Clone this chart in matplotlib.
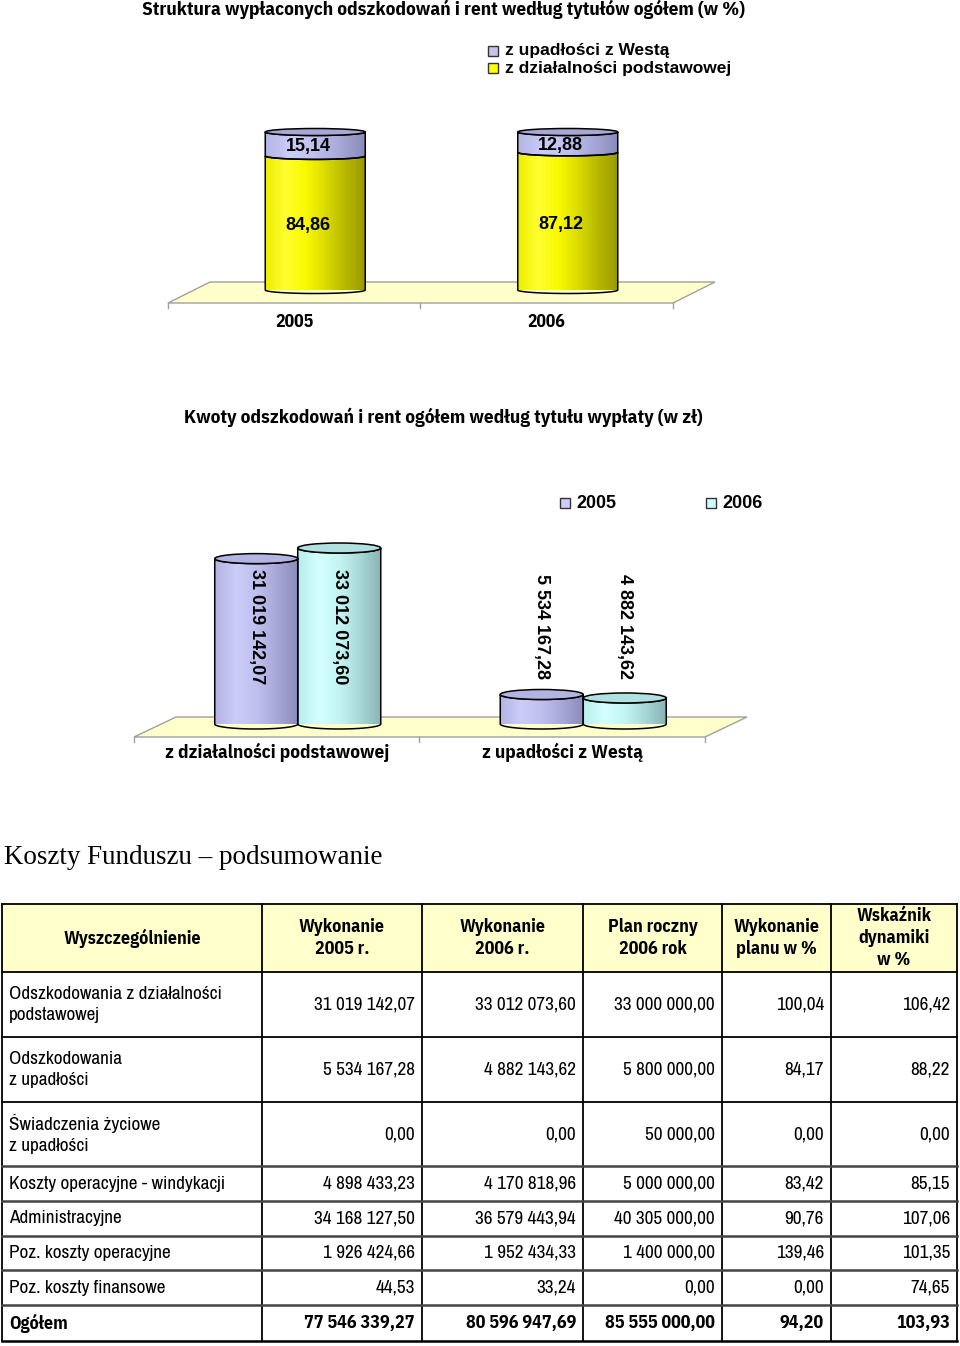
import numpy as np
import matplotlib
matplotlib.use('Agg')
import matplotlib.pyplot as plt
from matplotlib.patches import Polygon, Ellipse, Rectangle
from matplotlib.lines import Line2D
from matplotlib.colors import LinearSegmentedColormap
import matplotlib.transforms as mtransforms

# ---------------- data ----------------
years = ['2005', '2006']
share_series = ['z upadłości z Westą', 'z działalności podstawowej']
share_upadlosc = [15.14, 12.88]
share_dzialalnosc = [84.86, 87.12]

amount_categories = ['z działalności podstawowej', 'z upadłości z Westą']
amount_2005 = [31019142.07, 5534167.28]
amount_2006 = [33012073.60, 4882143.62]

title1 = 'Struktura wypłaconych odszkodowań i rent według tytułów ogółem (w %)'
title2 = 'Kwoty odszkodowań i rent ogółem według tytułu wypłaty (w zł)'
heading = 'Koszty Funduszu – podsumowanie'

table_headers = ['Wyszczególnienie', 'Wykonanie\n2005 r.', 'Wykonanie\n2006 r.',
                 'Plan roczny\n2006 rok', 'Wykonanie\nplanu w %', 'Wskaźnik\ndynamiki\nw %']
row_labels = ['Odszkodowania z działalności\npodstawowej', 'Odszkodowania\nz upadłości',
              'Świadczenia życiowe\nz upadłości', 'Koszty operacyjne - windykacji',
              'Administracyjne', 'Poz. koszty operacyjne', 'Poz. koszty finansowe', 'Ogółem']
wyk_2005 = [31019142.07, 5534167.28, 0.00, 4898433.23, 34168127.50, 1926424.66, 44.53, 77546339.27]
wyk_2006 = [33012073.60, 4882143.62, 0.00, 4170818.96, 36579443.94, 1952434.33, 33.24, 80596947.69]
plan_2006 = [33000000.00, 5800000.00, 50000.00, 5000000.00, 40305000.00, 1400000.00, 0.00, 85555000.00]
wyk_planu = [100.04, 84.17, 0.00, 83.42, 90.76, 139.46, 0.00, 94.20]
dynamika = [106.42, 88.22, 0.00, 85.15, 107.06, 101.35, 74.65, 103.93]

# ---------------- setup ----------------
W, H = 960, 1346
fig = plt.figure(figsize=(W / 100, H / 100), dpi=100)
NARROW_B = ['IBM Plex Sans Condensed', 'DejaVu Sans']
NARROW_R = ['Archivo Narrow', 'DejaVu Sans']
SANS = ['Liberation Sans', 'DejaVu Sans']
SERIF = ['Liberation Serif', 'DejaVu Serif']
renderer = fig.canvas.get_renderer()


def fx(x):
    return x / W


def fy(y):
    return 1 - y / H


def fit(t, target, vertical=False):
    bb = t.get_window_extent(renderer)
    cur = bb.height if vertical else bb.width
    t.set_fontsize(t.get_fontsize() * target / cur)
    return t.get_fontsize()


def px_axes(x0, x1, ytop, ybot):
    ax = fig.add_axes([x0 / W, 1 - ybot / H, (x1 - x0) / W, (ybot - ytop) / H])
    ax.axis('off')
    return ax


def fmt(v):
    return f'{v:,.2f}'.replace(',', ' ').replace('.', ',')


def cylinder(ax, rect, colors, capcolor, ell_px=10, cap=True):
    x0, w, y0, h = rect.get_x(), rect.get_width(), rect.get_y(), rect.get_height()
    ylo, yhi = ax.get_ylim()
    xl = ax.get_xlim()
    eh = ell_px * (yhi - ylo) / (ax.get_position().height * H)
    t = np.linspace(0, np.pi, 80)
    xs = x0 + w / 2 - w / 2 * np.cos(t)
    bottom = y0 - eh / 2 * np.sin(t)
    top = y0 + h - eh / 2 * np.sin(t)
    verts = np.r_[np.c_[xs, bottom], np.c_[xs[::-1], top[::-1]]]
    poly = Polygon(verts, closed=True, fc='none', ec='black', lw=1.1, zorder=3, clip_on=False)
    ax.add_patch(poly)
    cmap = LinearSegmentedColormap.from_list('c', colors)
    im = ax.imshow(np.linspace(0, 1, 256).reshape(1, -1), extent=(x0, x0 + w, y0 - eh, y0 + h),
                   aspect='auto', cmap=cmap, zorder=2, interpolation='bilinear')
    im.set_clip_box(None)
    im.set_clip_path(poly)
    if cap:
        ax.add_patch(Ellipse((x0 + w / 2, y0 + h), w, eh, fc=capcolor, ec='black', lw=1.1,
                             zorder=4, clip_on=False))
    ax.set_xlim(xl)
    ax.set_ylim(ylo, yhi)


def floor(xfl, xfr, yf, dx, yb, ticks):
    pts = [(xfl, yf), (xfl + dx, yb), (xfr + dx, yb), (xfr, yf)]
    fig.add_artist(Polygon([(fx(a), fy(b)) for a, b in pts], closed=True, fc='#FFFFCC',
                           ec='#A0A0A0', lw=1.0, transform=fig.transFigure, zorder=-1))
    for tx in ticks:
        fig.add_artist(Line2D([fx(tx), fx(tx)], [fy(yf), fy(yf + 5)], color='#A0A0A0', lw=1.0,
                              transform=fig.transFigure, zorder=-1))


YELLOW = ['#EDED00', '#FFFF30', '#FAFA00', '#DCDC00', '#B8B800', '#9A9A00']
LAV = ['#B4B4E4', '#CCCCF8', '#C0C0F0', '#A8A8D8', '#8C8CBC']
CYAN = ['#B8ECEC', '#D4FFFF', '#C4F4F4', '#A8D8D8', '#88B4B4']

# ---------------- chart 1 ----------------
t = fig.text(fx(443), fy(9), title1, ha='center', va='center', fontsize=14, fontweight='bold',
             family=NARROW_B)
fit(t, 608)
leg1 = [(share_series[0], '#C4C4EE'), (share_series[1], '#FFFF00')]
for i, (lab, col) in enumerate(leg1):
    yy = 51 + 17 * i
    fig.add_artist(Rectangle((fx(488), fy(yy + 5)), 10 / W, 10 / H, fc=col, ec='#333333', lw=1.0,
                             transform=fig.transFigure))
    t = fig.text(fx(505), fy(yy), lab, ha='left', va='center', fontsize=12, fontweight='bold',
                 family=SANS)
    if i == 1:
        lsize = fit(t, 225)
        fig.texts[-2].set_fontsize(lsize)

floor(168, 673, 303, 42, 282, [168, 420, 673])
ax1 = px_axes(189, 694, 132, 290)
ax1.set_xlim(-0.5, 1.5)
ax1.set_ylim(0, 100)
x = np.arange(len(years))
bw1 = 100 / 252.5
bars_d = ax1.bar(x, share_dzialalnosc, bw1, visible=False)
bars_u = ax1.bar(x, share_upadlosc, bw1, bottom=share_dzialalnosc, visible=False)
lab_tr = mtransforms.offset_copy(ax1.transData, fig=fig, x=-7, y=-3, units='dots')
for rd, ru, vd, vu in zip(bars_d, bars_u, share_dzialalnosc, share_upadlosc):
    cylinder(ax1, rd, YELLOW, '#E0E000', ell_px=7, cap=False)
    cylinder(ax1, ru, LAV, '#A8A8D4', ell_px=7, cap=True)
    for r, v in ((rd, vd), (ru, vu)):
        ax1.text(r.get_x() + r.get_width() / 2, r.get_y() + r.get_height() / 2,
                 f'{v:.2f}'.replace('.', ','), transform=lab_tr, ha='center', va='center',
                 fontsize=13, fontweight='bold', family=SANS, zorder=6)
cat_tr1 = mtransforms.blended_transform_factory(ax1.transData, ax1.transAxes)
cat_tr1 = mtransforms.offset_copy(cat_tr1, fig=fig, x=-21, y=0, units='dots')
for i, yr in enumerate(years):
    t = ax1.text(i, (290 - 322) / 158, yr, transform=cat_tr1, ha='center', va='center',
                 fontsize=13.5, fontweight='bold', family=NARROW_B)
    fit(t, 38)

# ---------------- chart 2 ----------------
t = fig.text(fx(443), fy(417), title2, ha='center', va='center', fontsize=14, fontweight='bold',
             family=NARROW_B)
fit(t, 522)
leg2 = [(years[0], '#CCCCFF', 560), (years[1], '#CCFFFF', 706)]
for lab, col, lx in leg2:
    fig.add_artist(Rectangle((fx(lx), fy(508)), 10 / W, 10 / H, fc=col, ec='#333333', lw=1.0,
                             transform=fig.transFigure))
    t = fig.text(fx(lx + 16), fy(503), lab, ha='left', va='center', fontsize=12.5, fontweight='bold',
                 family=SANS)
    fit(t, 40)

floor(134, 705, 737, 42, 717, [134, 419, 705])
ax2 = px_axes(155, 726, 537.4, 724)
ax2.set_xlim(-0.5, 1.5)
ax2.set_ylim(0, 35e6)
bw2 = 83 / 285.5
b05 = ax2.bar(x - bw2 / 2, amount_2005, bw2, visible=False)
b06 = ax2.bar(x + bw2 / 2, amount_2006, bw2, visible=False)
val_tr = mtransforms.blended_transform_factory(ax2.transData, ax2.transAxes)
vsize = None
for bars, vals, cols, capc in ((b05, amount_2005, LAV, '#B4B4E2'), (b06, amount_2006, CYAN, '#B0E0E0')):
    for r, v in zip(bars, vals):
        cylinder(ax2, r, cols, capc, cap=True)
        t = ax2.text(r.get_x() + r.get_width() / 2, 0.52, fmt(v), transform=val_tr, rotation=-90,
                     ha='center', va='center', fontsize=13, fontweight='bold', family=SANS, zorder=6)
        if vsize is None:
            vsize = fit(t, 115, vertical=True)
        t.set_fontsize(vsize)
cat_tr2 = mtransforms.offset_copy(val_tr, fig=fig, x=-21, y=0, units='dots')
csize = None
for i, c in enumerate(amount_categories):
    t = ax2.text(i, (724 - 752) / 186.6, c, transform=cat_tr2, ha='center', va='center',
                 fontsize=13.5, fontweight='bold', family=NARROW_B)
    if csize is None:
        csize = fit(t, 225)
    t.set_fontsize(csize)

# ---------------- table ----------------
t = fig.text(fx(4), fy(857), heading, ha='left', va='center', fontsize=20, family=SERIF)
fit(t, 379)

cols = [2, 262, 422, 583, 722, 831, 957]
rows = [904, 972, 1037, 1102, 1166, 1201, 1236, 1270, 1305, 1341]
fig.add_artist(Rectangle((fx(cols[0]), fy(rows[1])), (cols[-1] - cols[0]) / W, (rows[1] - rows[0]) / H,
                         fc='#FFFFCC', ec='none', transform=fig.transFigure, zorder=0))
for cx in cols:
    fig.add_artist(Line2D([fx(cx), fx(cx)], [fy(rows[0]), fy(rows[-1])], color='black', lw=1.3,
                          transform=fig.transFigure))
for i, ry in enumerate(rows):
    fig.add_artist(Line2D([fx(cols[0]), fx(cols[-1])], [fy(ry), fy(ry)],
                          color='black' if i < 4 or i == len(rows) - 1 else '#444444',
                          lw=1.3 if i < 4 else 1.8, transform=fig.transFigure))

probe = fig.text(0, 0, 'Wyszczególnienie', fontsize=13, fontweight='bold', family=NARROW_B)
hsize = fit(probe, 137)
probe.remove()
probe = fig.text(0, 0, fmt(wyk_2005[0]), fontsize=13, family=NARROW_R)
bsize = fit(probe, 101)
probe.remove()

for j, htxt in enumerate(table_headers):
    fig.text(fx((cols[j] + cols[j + 1]) / 2), fy((rows[0] + rows[1]) / 2), htxt, ha='center',
             va='center', fontsize=hsize, fontweight='bold', family=NARROW_B, linespacing=1.3)

columns = [wyk_2005, wyk_2006, plan_2006, wyk_planu, dynamika]
for i, lab in enumerate(row_labels):
    yc = fy((rows[i + 1] + rows[i + 2]) / 2)
    last = i == len(row_labels) - 1
    fam = NARROW_B if last else NARROW_R
    wt = 'bold' if last else 'normal'
    fs = hsize if last else bsize
    fig.text(fx(cols[0] + 7), yc, lab, ha='left', va='center', fontsize=fs, fontweight=wt,
             family=fam, linespacing=1.4)
    for j, colvals in enumerate(columns):
        fig.text(fx(cols[j + 2] - 7), yc, fmt(colvals[i]), ha='right', va='center', fontsize=fs,
                 fontweight=wt, family=fam)

fig.savefig('out.png', dpi=100, facecolor='white')
